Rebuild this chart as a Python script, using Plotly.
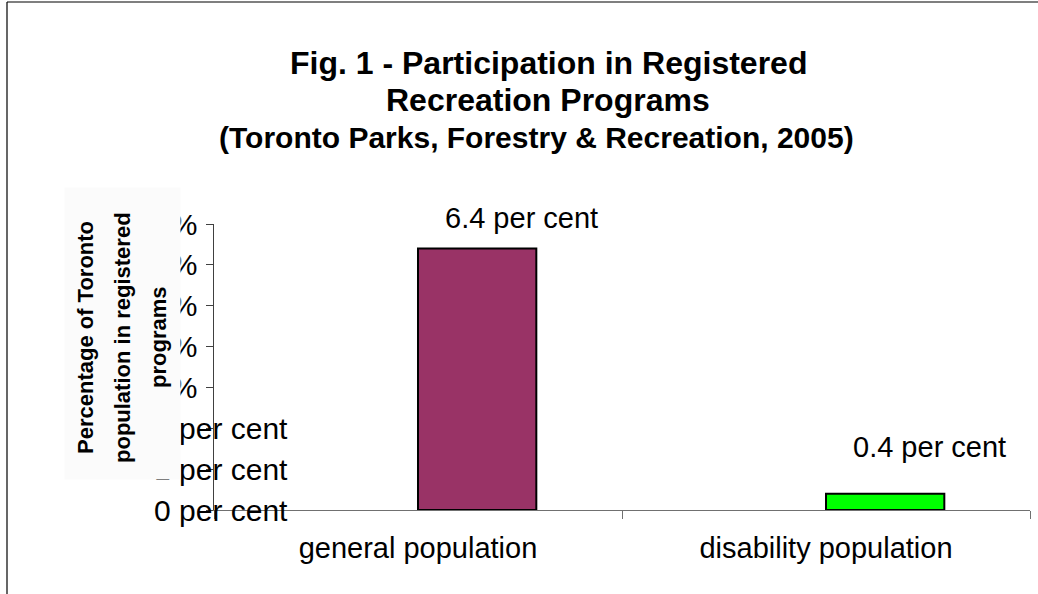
import plotly.graph_objects as go

# Chart data
categories = ["general population", "disability population"]
values = [6.4, 0.4]
bar_colors = ["#993366", "#00FF00"]
y_tick_values = [0, 1, 2, 3, 4, 5, 6, 7]
y_tick_labels = ["0 per cent", "1 per cent", "2 per cent", "3%", "4%", "5%", "6%", "7%"]

title_lines = ["Fig. 1 - Participation in Registered", "Recreation Programs"]
subtitle = "(Toronto Parks, Forestry & Recreation, 2005)"
y_title_lines = ["Percentage of Toronto", "population in registered", "programs"]

W, H = 1038, 594
FONT = "Liberation Sans, Arial, sans-serif"


def px_x(px):
    return px / W


def px_y(py):
    return 1 - py / H


fig = go.Figure()
fig.add_trace(go.Bar(
    x=categories,
    y=values,
    width=0.29,
    offset=0,
    marker=dict(color=bar_colors, line=dict(color="#000000", width=2)),
    hoverinfo="skip",
    showlegend=False,
))

annotations = []

# Value labels above the bars
label_yshift = [31, 47]
for cat, v, ys in zip(categories, values, label_yshift):
    annotations.append(dict(
        x=cat, y=v, xref="x", yref="y",
        text=f"{v} per cent", showarrow=False,
        xanchor="center", yanchor="middle",
        xshift=103, yshift=ys,
        font=dict(family=FONT, size=29, color="#000000"),
    ))

# Value-axis labels
for tv, tl in zip(y_tick_values, y_tick_labels):
    annotations.append(dict(
        x=px_x(152), y=tv, xref="paper", yref="y",
        text=tl, showarrow=False,
        xanchor="left", yanchor="middle",
        font=dict(family=FONT, size=30, color="#000000"),
    ))

# Panel behind the value-axis title
annotations.append(dict(
    x=px_x(122.5), y=px_y(333.5), xref="paper", yref="paper",
    text=" ", showarrow=False, xanchor="center", yanchor="middle",
    width=115, height=291, bgcolor="#FBFBFB", borderpad=0,
))

# Value-axis title, one rotated line per annotation
for xp, line in zip([85, 122, 158], y_title_lines):
    annotations.append(dict(
        x=px_x(xp), y=px_y(338), xref="paper", yref="paper",
        text=f"<b>{line}</b>", showarrow=False, textangle=-90,
        xanchor="center", yanchor="middle",
        font=dict(family=FONT, size=22, color="#000000"),
    ))

# Chart title
for yp, line in zip([63, 100], title_lines):
    annotations.append(dict(
        x=px_x(548), y=px_y(yp), xref="paper", yref="paper",
        text=f"<b>{line}</b>", showarrow=False,
        xanchor="center", yanchor="middle",
        font=dict(family=FONT, size=32, color="#000000"),
    ))
annotations.append(dict(
    x=px_x(536), y=px_y(137), xref="paper", yref="paper",
    text=f"<b>{subtitle}</b>", showarrow=False,
    xanchor="center", yanchor="middle",
    font=dict(family=FONT, size=30, color="#000000"),
))

fig.update_layout(
    width=W, height=H,
    margin=dict(l=0, r=0, t=0, b=0),
    paper_bgcolor="#FFFFFF",
    plot_bgcolor="#FFFFFF",
    annotations=annotations,
    shapes=[
        # chart frame
        dict(type="line", xref="paper", yref="paper",
             x0=px_x(7), x1=1.01, y0=px_y(2), y1=px_y(2),
             line=dict(color="#000000", width=1.2)),
        dict(type="line", xref="paper", yref="paper",
             x0=px_x(7), x1=px_x(7), y0=px_y(2), y1=-0.01,
             line=dict(color="#000000", width=1.2)),
    ],
    xaxis=dict(
        domain=[px_x(214), px_x(1030)],
        type="category",
        showline=True, linecolor="#707070", linewidth=1,
        ticks="outside", tickson="boundaries", ticklen=8,
        tickcolor="#707070",
        showgrid=False, zeroline=False,
        ticklabelstandoff=12,
        tickfont=dict(family=FONT, size=29, color="#000000"),
        fixedrange=True,
    ),
    yaxis=dict(
        domain=[px_y(510), px_y(224)],
        range=[0, 7],
        tickvals=y_tick_values,
        showticklabels=False,
        showline=True, linecolor="#404040", linewidth=1,
        ticks="outside", ticklen=7, tickcolor="#404040",
        showgrid=False, zeroline=False,
        fixedrange=True,
    ),
)

fig.write_html("out.html")
